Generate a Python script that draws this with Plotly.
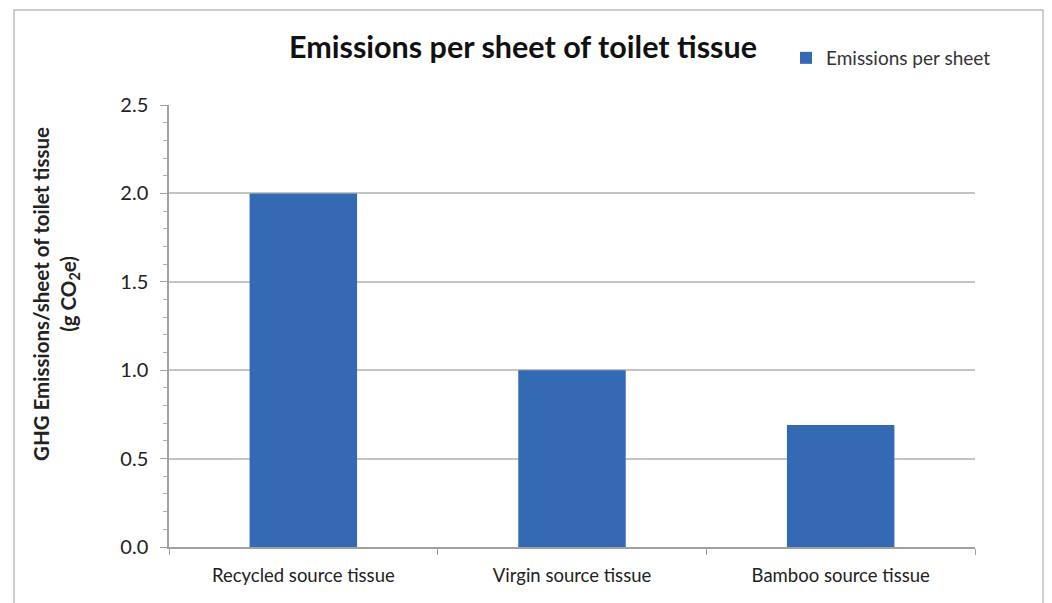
import plotly.graph_objects as go

categories = ["Recycled source tissue", "Virgin source tissue", "Bamboo source tissue"]
emissions = [2.0, 1.0, 0.69]
series_name = "Emissions per sheet"
y_ticks = [0.0, 0.5, 1.0, 1.5, 2.0, 2.5]
y_tick_labels = ["0.0", "0.5", "1.0", "1.5", "2.0", "2.5"]
y_title = "<b>GHG Emissions/sheet of toilet tissue<br>(g CO<sub>2</sub>e)</b>"

W, H = 1052, 603
L, R, T, B = 169, 77, 105, 56
pw, ph = W - L - R, H - T - B

def px_x(x):
    return (x - L) / pw

def px_y(y):
    return (H - B - y) / ph

fig = go.Figure()
fig.add_trace(go.Bar(
    x=categories, y=emissions, name=series_name,
    marker=dict(color="#3469b3", line=dict(width=0)),
    showlegend=True,
))

fig.update_layout(
    width=W, height=H,
    margin=dict(l=L, r=R, t=T, b=B, autoexpand=False),
    paper_bgcolor="white", plot_bgcolor="white",
    font=dict(family="Lato, 'Open Sans', sans-serif", color="#222"),
    bargap=0.6,
    title=dict(text="<b>Emissions per sheet of toilet tissue</b>",
               x=px_x(523), xanchor="center", xref="paper",
               y=1 - 47 / H, yanchor="middle", yref="container",
               font=dict(size=30.5, color="#111")),
    legend=dict(x=px_x(786), y=px_y(58), xanchor="left", yanchor="middle",
                font=dict(size=19, color="#333"), bgcolor="rgba(0,0,0,0)",
                itemwidth=30, tracegroupgap=0),
    xaxis=dict(
        showgrid=False, showline=True, linecolor="#a0a0a0", linewidth=1.5,
        ticks="outside", tickson="boundaries", ticklen=6, tickcolor="#a0a0a0",
        tickfont=dict(size=18.5, color="#222"), fixedrange=True,
        ticklabelstandoff=11,
    ),
    yaxis=dict(
        range=[0, 2.5], tickvals=y_ticks, ticktext=y_tick_labels,
        showgrid=True, gridcolor="#c4c4c4", gridwidth=1.5,
        showline=True, linecolor="#a0a0a0", linewidth=1.5,
        ticks="outside", ticklen=7, tickcolor="#a0a0a0",
        minor=dict(dtick=0.1, ticks="outside", ticklen=4, tickcolor="#b0b0b0", showgrid=False),
        tickfont=dict(size=20, color="#222"), zeroline=False,
        ticklabelstandoff=8,
    ),
    annotations=[dict(text=y_title, textangle=-90, showarrow=False,
                      xref="paper", yref="paper", x=px_x(56), y=px_y(294),
                      xanchor="center", yanchor="middle",
                      font=dict(size=20.5, color="#222"))],
    shapes=[dict(type="rect", xref="paper", yref="paper",
                 x0=px_x(14), x1=px_x(1043), y0=px_y(610), y1=px_y(10),
                 line=dict(color="#bdbdbd", width=1.5), layer="below")],
)

fig.write_html("out.html")
